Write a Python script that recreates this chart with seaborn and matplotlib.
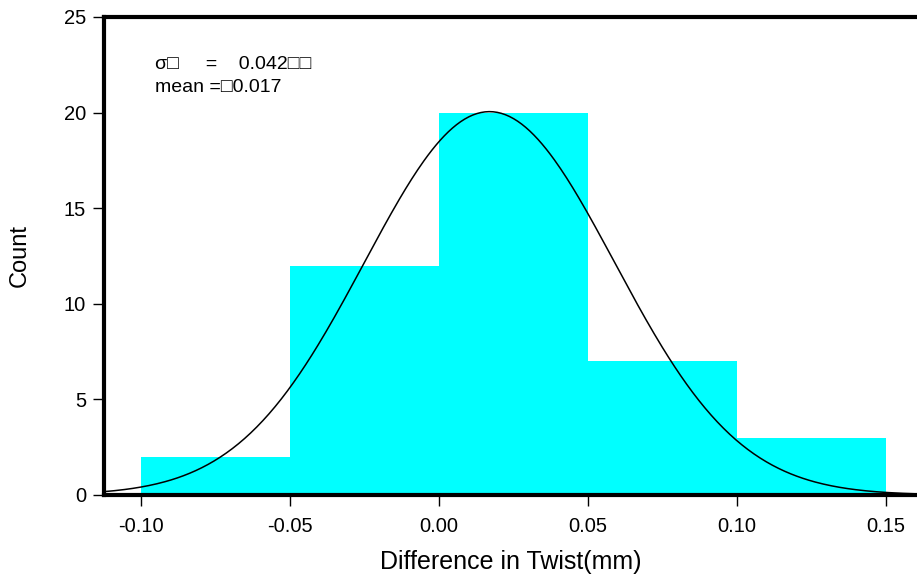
import numpy as np
import pandas as pd
import seaborn as sns
import matplotlib.pyplot as plt

# histogram bins (mm) and counts
bin_edges = [-0.10, -0.05, 0.00, 0.05, 0.10, 0.15]
counts = [2, 12, 20, 7, 3]

# fitted normal curve parameters
fit_mean = 0.017
fit_sigma = 0.042
fit_peak = 20.05

x_ticks = [-0.10, -0.05, 0.00, 0.05, 0.10, 0.15]
y_ticks = [0, 5, 10, 15, 20, 25]


def main():
    sns.set_style("white")
    plt.rcParams["font.family"] = ["Liberation Sans", "DejaVu Sans"]
    plt.rcParams["text.color"] = "black"
    plt.rcParams["axes.labelcolor"] = "black"
    plt.rcParams["xtick.color"] = "black"
    plt.rcParams["ytick.color"] = "black"

    fig = plt.figure(figsize=(9.17, 5.8), dpi=100)
    ax = fig.add_axes([0.1134, 0.1466, 0.8866, 0.8241])

    centers = [(a + b) / 2 for a, b in zip(bin_edges[:-1], bin_edges[1:])]
    df = pd.DataFrame({"diff": centers, "count": counts})
    sns.histplot(df, x="diff", weights="count", bins=bin_edges, ax=ax,
                 color="#00FFFF", alpha=1, edgecolor="none", linewidth=0)

    xlo, xhi = -0.1124, 0.1605
    xs = np.linspace(xlo, xhi, 400)
    ys = fit_peak * np.exp(-0.5 * ((xs - fit_mean) / fit_sigma) ** 2)
    sns.lineplot(x=xs, y=ys, ax=ax, color="black", linewidth=1.1)

    ax.set_xlim(xlo, xhi)
    ax.set_ylim(0, 25)
    ax.set_xticks(x_ticks)
    ax.set_xticklabels([f"{t:.2f}" for t in x_ticks])
    ax.set_yticks(y_ticks)

    for side in ("left", "top", "bottom"):
        ax.spines[side].set_linewidth(3)
        ax.spines[side].set_color("black")
    ax.spines["right"].set_visible(False)

    ax.tick_params(axis="both", direction="out", length=8, width=1,
                   color="black", labelcolor="black", labelsize=14.5,
                   bottom=True, left=True)
    ax.tick_params(axis="x", pad=8)
    ax.tick_params(axis="y", pad=5)

    ax.set_xlabel("Difference in Twist(mm)", fontsize=18, labelpad=10,
                  color="black")
    ax.set_ylabel("Count", fontsize=17, labelpad=24, color="black")

    ax.text(0.063, 0.900, "σ\u25a1     =    0.042\u25a1\u25a1",
            transform=ax.transAxes, fontsize=14, va="center", color="black")
    ax.text(0.063, 0.853, "mean =\u25a10.017", transform=ax.transAxes,
            fontsize=14, va="center", color="black")

    fig.savefig("out.png", dpi=100)


if __name__ == "__main__":
    main()
